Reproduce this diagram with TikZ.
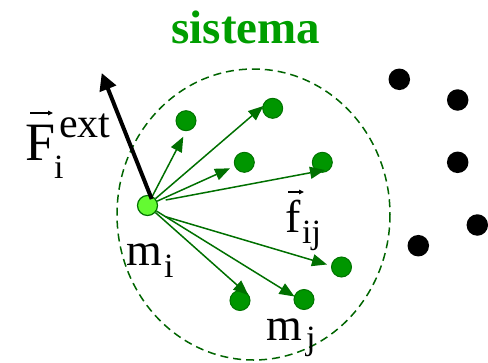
\documentclass[tikz,border=0pt]{standalone}
\usepackage{fontspec}
\setmainfont{Liberation Serif}
\usetikzlibrary{arrows.meta}

\definecolor{titlegreen}{RGB}{0,158,0}
\definecolor{dotgreen}{RGB}{0,150,0}
\definecolor{dotedge}{RGB}{0,115,0}
\definecolor{lightgreen}{RGB}{100,250,50}
\definecolor{arrowgreen}{RGB}{0,112,0}
\definecolor{limitgreen}{RGB}{0,100,0}

\newcommand{\fsz}[1]{\fontsize{#1}{#1}\selectfont}

\tikzset{
  gdot/.style={circle, fill=dotgreen, draw=dotedge, line width=1pt,
               minimum size=20pt, inner sep=0pt},
  bdot/.style={circle, fill=black, minimum size=21.5pt, inner sep=0pt},
  mass/.style={circle, fill=lightgreen, draw=dotedge, line width=1.2pt,
               minimum size=20pt, inner sep=0pt},
  force/.style={draw=arrowgreen, line width=1.5pt,
                -{Triangle[length=15pt,width=12pt]}},
  extforce/.style={draw=black, line width=4pt,
                   -{Triangle[length=17pt,width=17pt]}},
  vecmark/.style={draw=black, line width=1.1pt,
                  -{Triangle[length=5pt,width=4.5pt]}},
  lbl/.style={inner sep=0pt, anchor=base west},
  boundary/.style={draw=limitgreen, line width=1.5pt,
                   dash pattern=on 8pt off 5pt}
}

\begin{document}
\begin{tikzpicture}[x=1pt, y=-1pt]
  \useasboundingbox (0,0) rectangle (488,362);

  % title
  \node[inner sep=0pt, anchor=base, text=titlegreen] (title) at (246,43)
    {\fsz{47}\bfseries sistema};

  % boundary of the system
  \draw[boundary] (253.5,214.5) ellipse [x radius=136.5, y radius=145.5];

  % particles inside the system
  \node[gdot] (d1) at (186,120.7) {};
  \node[gdot] (d2) at (272.7,108.3) {};
  \node[gdot] (d3) at (244.3,162.3) {};
  \node[gdot] (d4) at (322.3,162.3) {};
  \node[gdot] (d5) at (341.5,267) {};
  \node[gdot] (d6) at (240,300.5) {};
  \node[gdot] (d7) at (304,299.5) {};

  % particles outside the system
  \node[bdot] (e1) at (399.3,79.3) {};
  \node[bdot] (e2) at (457.7,100) {};
  \node[bdot] (e3) at (457.7,162.3) {};
  \node[bdot] (e4) at (477.3,225) {};
  \node[bdot] (e5) at (418.3,245.7) {};

  % particle i
  \node[mass] (mi) at (147.5,205.5) {};

  % arrow tips and offset starts of the internal forces
  \coordinate (t1) at (183.3,136.7);
  \coordinate (t2) at (263.3,106);
  \coordinate (t3) at (230,168.3);
  \coordinate (s4) at (165.7,200);
  \coordinate (t4) at (325,170);
  \coordinate (s5) at (165.7,216.7);
  \coordinate (t5) at (327,264.5);
  \coordinate (t6) at (248.3,295);
  \coordinate (t7) at (294.5,296.5);

  \draw[force] (mi) -- (t1);
  \draw[force] (mi) -- (t2);
  \draw[force] (mi) -- (t3);
  \draw[force] (s4) -- (t4);
  \draw[force] (s5) -- (t5);
  \draw[force] (mi) -- (t6);
  \draw[force] (mi) -- (t7);

  % external force
  \coordinate (fs) at (151.7,199);
  \coordinate (ft) at (101.7,73);
  \draw[extforce] (fs) -- (ft);

  % labels
  \node[lbl] (F) at (25,160) {\fsz{54}F};
  \node[lbl] (Fsub) at (54,178) {\fsz{34}i};
  \node[lbl] (Fsup) at (59,137) {\fsz{42}ext};
  \coordinate (Fa) at (30,113);
  \coordinate (Fb) at (53,113);
  \draw[vecmark] (Fa) -- (Fb);

  \node[lbl] (mlab) at (126,265) {\fsz{46}m};
  \node[lbl] (msub) at (164,277) {\fsz{34}i};

  \node[lbl] (flab) at (285,232) {\fsz{46}f};
  \node[lbl] (fsub) at (302,243) {\fsz{34}ij};
  \coordinate (fa) at (288,192);
  \coordinate (fb) at (304,192);
  \draw[vecmark] (fa) -- (fb);

  \node[lbl] (mj) at (266,340) {\fsz{46}m};
  \node[lbl] (mjsub) at (306,349) {\fsz{34}j};
\end{tikzpicture}
\end{document}
